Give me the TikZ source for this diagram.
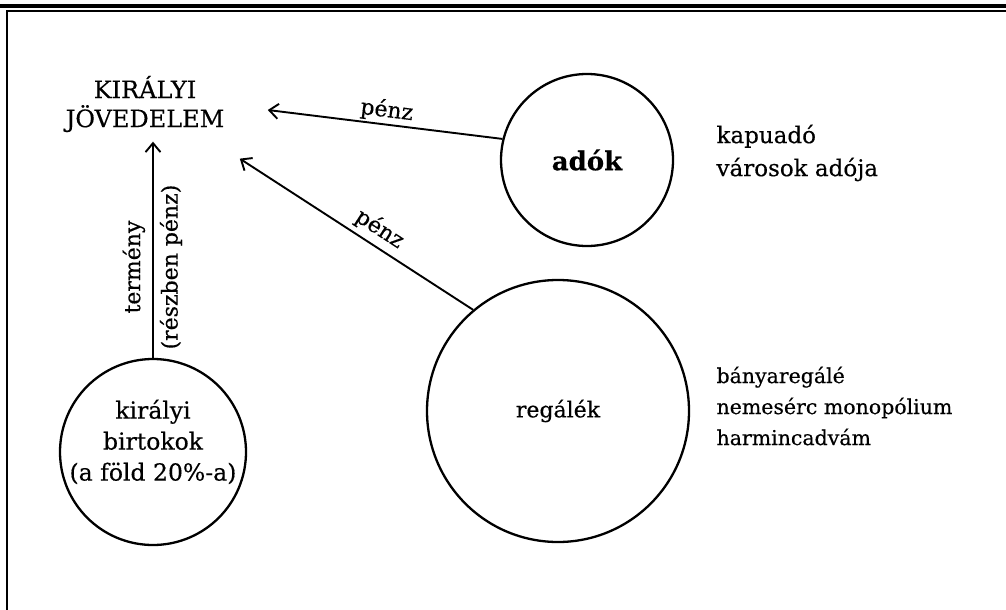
\documentclass[tikz,border=0pt]{standalone}
\usepackage{fontspec}
\setmainfont{DejaVu Serif}[FakeBold=0.4]
\usetikzlibrary{arrows.meta}
\begin{document}
\begin{tikzpicture}[x=1pt,y=-1pt,
    kor/.style={circle, draw, line width=2.3pt, inner sep=0pt},
    nyil/.style={-{Straight Barb[length=9pt,width=15pt,line width=1.9pt]}, line width=1.9pt},
    felirat/.style={font=\fontsize{22}{31}\selectfont}]
\useasboundingbox (0,0) rectangle (1006,610);
% keret
\fill (0,4.5) rectangle (1006,8.5);
\draw[line width=2.2pt] (1006,11) -- (7,11) -- (7,610);
\node (kj) at (145,104) [align=center, font=\fontsize{24}{29}\selectfont] {KIRÁLYI\\JÖVEDELEM};
\node[kor, minimum size=172pt] (ado) at (587,160) {\fontsize{26}{30}\selectfont\bfseries adók};
\node[kor, minimum size=262pt] (regale) at (558,411) {\fontsize{22}{30}\selectfont regálék};
\node[kor, minimum size=186pt] (birtok) at (153,452) {};
\node[align=center, font=\fontsize{23.5}{31}\selectfont] (birtokszoveg) at ([yshift=10pt]birtok.center) {királyi\\birtokok\\(a föld 20\%-a)};
\coordinate (be1) at ([shift={(40,6)}]kj.east);
\coordinate (be2) at ([shift={(12,23)}]kj.south east);
\coordinate (be3) at ([shift={(8,6)}]kj.south);
\draw[nyil] (ado.166) -- node[felirat, sloped, above, inner sep=2pt] (penz1) {pénz} (be1);
\draw[nyil] (regale.130) -- node[felirat, sloped, above, pos=0.44, inner sep=5pt] (penz2) {pénz} (be2);
\draw[nyil] (birtok.north) -- node[felirat, sloped, above, pos=0.42, inner sep=7pt] (termeny) {termény}
    node[felirat, sloped, below, pos=0.42, inner sep=6pt] (reszben) {(részben pénz)} (birtok.north |- be3);
\node[anchor=west, align=left, font=\fontsize{23}{33}\selectfont] (adolista) at (713,153) {kapuadó\\városok adója};
\node[anchor=west, align=left, font=\fontsize{20.5}{31}\selectfont] (regalelista) at (713,406) {bányaregálé\\nemesérc monopólium\\harmincadvám};
\end{tikzpicture}
\end{document}
